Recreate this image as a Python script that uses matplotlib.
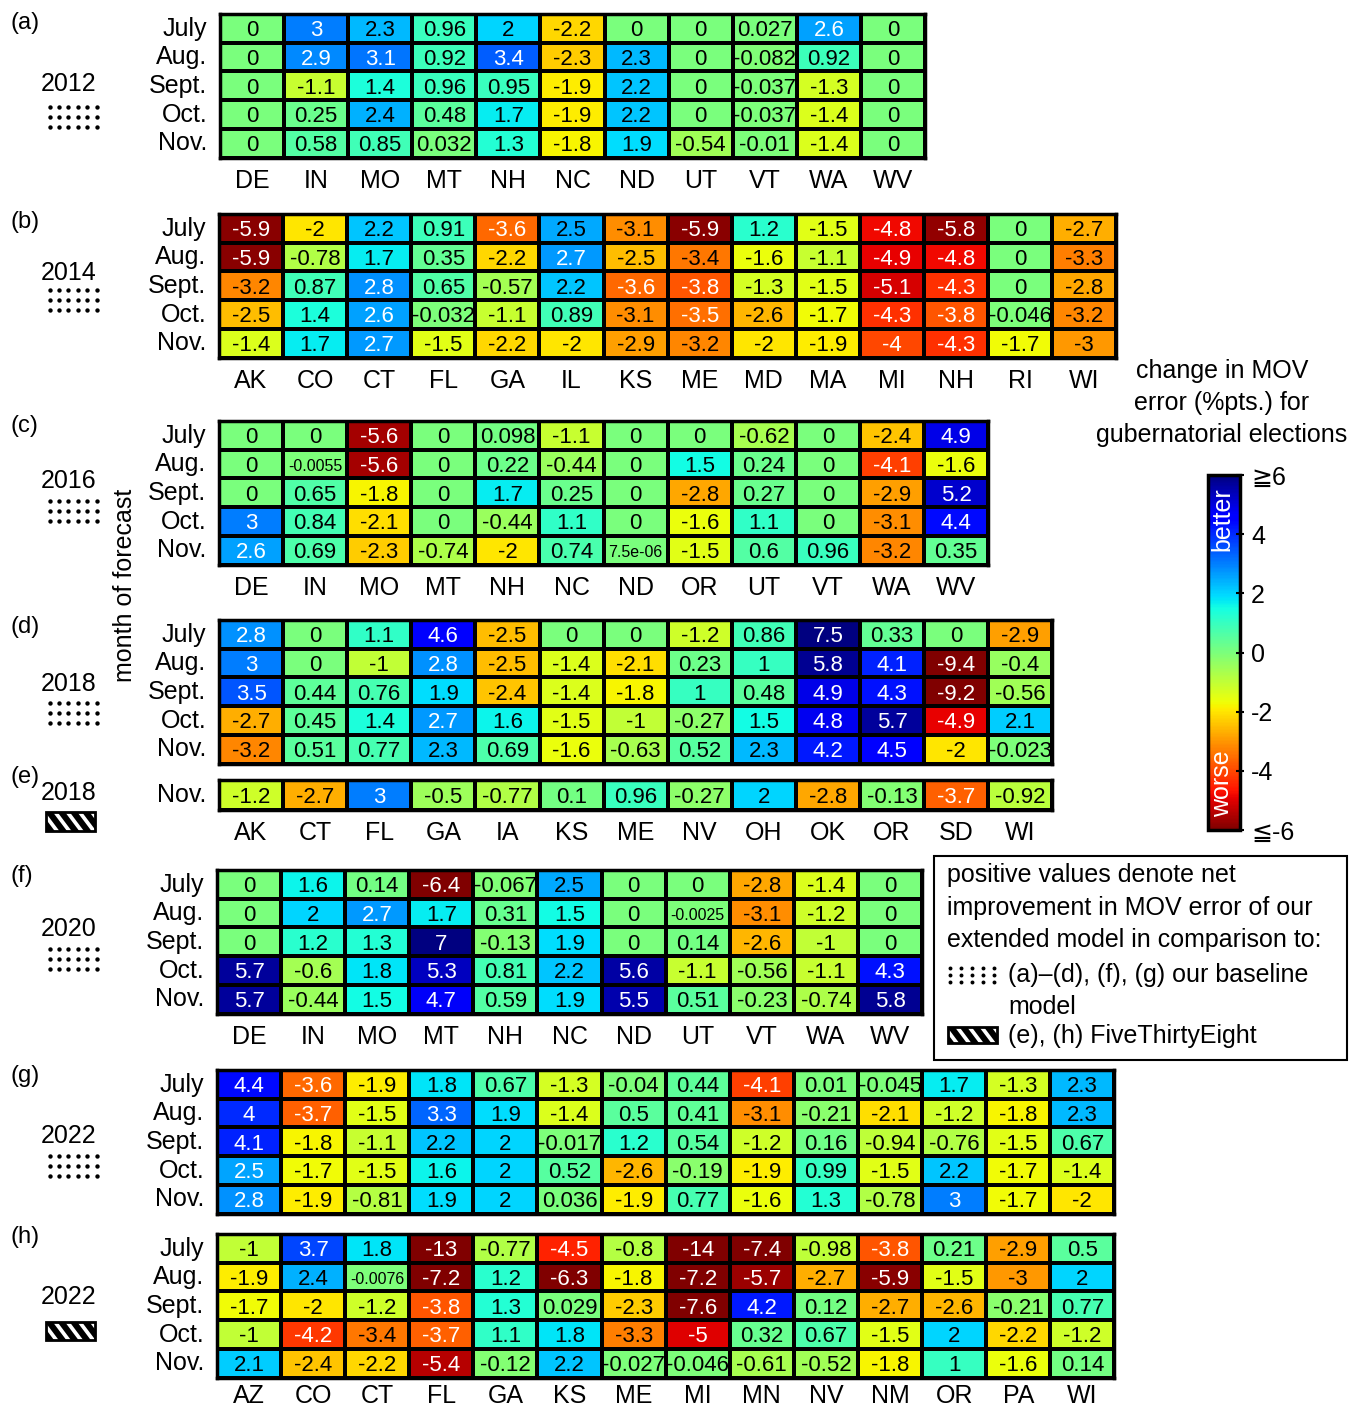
import matplotlib
matplotlib.use('Agg')
import matplotlib.pyplot as plt
import numpy as np
from matplotlib.colors import Normalize
from matplotlib.cm import ScalarMappable
from matplotlib.patches import Rectangle, Polygon

plt.rcParams['font.family'] = ['Liberation Sans', 'DejaVu Sans']

# ---- data -----------------------------------------------------------------
months = ['July', 'Aug.', 'Sept.', 'Oct.', 'Nov.']

states_2012 = ['DE', 'IN', 'MO', 'MT', 'NH', 'NC', 'ND', 'UT', 'VT', 'WA', 'WV']
vals_2012 = [
    [0, 3, 2.3, 0.96, 2, -2.2, 0, 0, 0.027, 2.6, 0],
    [0, 2.9, 3.1, 0.92, 3.4, -2.3, 2.3, 0, -0.082, 0.92, 0],
    [0, -1.1, 1.4, 0.96, 0.95, -1.9, 2.2, 0, -0.037, -1.3, 0],
    [0, 0.25, 2.4, 0.48, 1.7, -1.9, 2.2, 0, -0.037, -1.4, 0],
    [0, 0.58, 0.85, 0.032, 1.3, -1.8, 1.9, -0.54, -0.01, -1.4, 0],
]

states_2014 = ['AK', 'CO', 'CT', 'FL', 'GA', 'IL', 'KS', 'ME', 'MD', 'MA', 'MI', 'NH', 'RI', 'WI']
vals_2014 = [
    [-5.9, -2, 2.2, 0.91, -3.6, 2.5, -3.1, -5.9, 1.2, -1.5, -4.8, -5.8, 0, -2.7],
    [-5.9, -0.78, 1.7, 0.35, -2.2, 2.7, -2.5, -3.4, -1.6, -1.1, -4.9, -4.8, 0, -3.3],
    [-3.2, 0.87, 2.8, 0.65, -0.57, 2.2, -3.6, -3.8, -1.3, -1.5, -5.1, -4.3, 0, -2.8],
    [-2.5, 1.4, 2.6, -0.032, -1.1, 0.89, -3.1, -3.5, -2.6, -1.7, -4.3, -3.8, -0.046, -3.2],
    [-1.4, 1.7, 2.7, -1.5, -2.2, -2, -2.9, -3.2, -2, -1.9, -4, -4.3, -1.7, -3],
]

states_2016 = ['DE', 'IN', 'MO', 'MT', 'NH', 'NC', 'ND', 'OR', 'UT', 'VT', 'WA', 'WV']
vals_2016 = [
    [0, 0, -5.6, 0, 0.098, -1.1, 0, 0, -0.62, 0, -2.4, 4.9],
    [0, -0.0055, -5.6, 0, 0.22, -0.44, 0, 1.5, 0.24, 0, -4.1, -1.6],
    [0, 0.65, -1.8, 0, 1.7, 0.25, 0, -2.8, 0.27, 0, -2.9, 5.2],
    [3, 0.84, -2.1, 0, -0.44, 1.1, 0, -1.6, 1.1, 0, -3.1, 4.4],
    [2.6, 0.69, -2.3, -0.74, -2, 0.74, 7.5e-06, -1.5, 0.6, 0.96, -3.2, 0.35],
]

states_2018 = ['AK', 'CT', 'FL', 'GA', 'IA', 'KS', 'ME', 'NV', 'OH', 'OK', 'OR', 'SD', 'WI']
vals_2018 = [
    [2.8, 0, 1.1, 4.6, -2.5, 0, 0, -1.2, 0.86, 7.5, 0.33, 0, -2.9],
    [3, 0, -1, 2.8, -2.5, -1.4, -2.1, 0.23, 1, 5.8, 4.1, -9.4, -0.4],
    [3.5, 0.44, 0.76, 1.9, -2.4, -1.4, -1.8, 1, 0.48, 4.9, 4.3, -9.2, -0.56],
    [-2.7, 0.45, 1.4, 2.7, 1.6, -1.5, -1, -0.27, 1.5, 4.8, 5.7, -4.9, 2.1],
    [-3.2, 0.51, 0.77, 2.3, 0.69, -1.6, -0.63, 0.52, 2.3, 4.2, 4.5, -2, -0.023],
]
vals_2018_538 = [
    [-1.2, -2.7, 3, -0.5, -0.77, 0.1, 0.96, -0.27, 2, -2.8, -0.13, -3.7, -0.92],
]

states_2020 = ['DE', 'IN', 'MO', 'MT', 'NH', 'NC', 'ND', 'UT', 'VT', 'WA', 'WV']
vals_2020 = [
    [0, 1.6, 0.14, -6.4, -0.067, 2.5, 0, 0, -2.8, -1.4, 0],
    [0, 2, 2.7, 1.7, 0.31, 1.5, 0, -0.0025, -3.1, -1.2, 0],
    [0, 1.2, 1.3, 7, -0.13, 1.9, 0, 0.14, -2.6, -1, 0],
    [5.7, -0.6, 1.8, 5.3, 0.81, 2.2, 5.6, -1.1, -0.56, -1.1, 4.3],
    [5.7, -0.44, 1.5, 4.7, 0.59, 1.9, 5.5, 0.51, -0.23, -0.74, 5.8],
]

states_2022 = ['AZ', 'CO', 'CT', 'FL', 'GA', 'KS', 'ME', 'MI', 'MN', 'NV', 'NM', 'OR', 'PA', 'WI']
vals_2022 = [
    [4.4, -3.6, -1.9, 1.8, 0.67, -1.3, -0.04, 0.44, -4.1, 0.01, -0.045, 1.7, -1.3, 2.3],
    [4, -3.7, -1.5, 3.3, 1.9, -1.4, 0.5, 0.41, -3.1, -0.21, -2.1, -1.2, -1.8, 2.3],
    [4.1, -1.8, -1.1, 2.2, 2, -0.017, 1.2, 0.54, -1.2, 0.16, -0.94, -0.76, -1.5, 0.67],
    [2.54, -1.7, -1.5, 1.6, 2, 0.52, -2.6, -0.19, -1.9, 0.99, -1.5, 2.2, -1.7, -1.4],
    [2.8, -1.9, -0.81, 1.9, 2, 0.036, -1.9, 0.77, -1.6, 1.3, -0.78, 3, -1.7, -2],
]
vals_2022_538 = [
    [-1, 3.7, 1.8, -13, -0.77, -4.5, -0.8, -14, -7.4, -0.98, -3.8, 0.21, -2.9, 0.5],
    [-1.9, 2.4, -0.0076, -7.2, 1.2, -6.3, -1.8, -7.2, -5.7, -2.7, -5.9, -1.5, -3, 2],
    [-1.7, -2, -1.2, -3.8, 1.3, 0.029, -2.3, -7.6, 4.2, 0.12, -2.7, -2.6, -0.21, 0.77],
    [-1, -4.2, -3.4, -3.7, 1.1, 1.8, -3.3, -5, 0.32, 0.67, -1.5, 2, -2.2, -1.2],
    [2.1, -2.4, -2.2, -5.4, -0.12, 2.2, -0.027, -0.046, -0.61, -0.52, -1.8, 1, -1.6, 0.14],
]

# ---- layout (pixels) ------------------------------------------------------
W, H = 1364, 1408
CW, RH = 64.1, 28.7
cmap = plt.get_cmap('jet_r')
norm = Normalize(vmin=-6, vmax=6)

fig = plt.figure(figsize=(W / 100, H / 100), dpi=100)

def add_ax(x0, y0, x1, y1):
    return fig.add_axes([x0 / W, 1 - y1 / H, (x1 - x0) / W, (y1 - y0) / H])

# overlay axes in pixel coordinates for labels and symbols
ov = fig.add_axes([0, 0, 1, 1])
ov.set_xlim(0, W)
ov.set_ylim(H, 0)
ov.axis('off')


def heatmap(left, top, vals, rows, cols, rh=RH, xlabels=True, xpad=8):
    vals = np.array(vals, dtype=float)
    m, n = vals.shape
    ax = add_ax(left, top, left + n * CW, top + m * rh)
    ax.pcolormesh(vals, cmap=cmap, norm=norm, edgecolors='black', linewidth=1.5)
    ax.set_xlim(0, n)
    ax.set_ylim(m, 0)
    ax.set_yticks(np.arange(m) + 0.42, rows)
    if xlabels:
        ax.set_xticks(np.arange(n) + 0.5, cols)
    else:
        ax.set_xticks([])
    ax.tick_params(axis='y', length=0, labelsize=18, pad=9)
    ax.tick_params(axis='x', length=0, labelsize=18, pad=xpad)
    for s in ax.spines.values():
        s.set_linewidth(2.5)
    for i in range(m):
        for j in range(n):
            v = vals[i, j]
            s = '%.2g' % v
            fs = 11.5 if len(s) >= 7 else 16
            c = 'white' if (v > 2.5 or v < -3.45) else 'black'
            ax.text(j + 0.5, i + 0.58, s, ha='center', va='center',
                    fontsize=fs, color=c)
    return ax


def dots(xc, yc, ncol=6, nrow=3, dx=9.4, dy=10, s=10):
    xs = xc + (np.arange(ncol) - (ncol - 1) / 2) * dx
    ys = yc + (np.arange(nrow) - (nrow - 1) / 2) * dy
    X, Y = np.meshgrid(xs, ys)
    ov.scatter(X.ravel(), Y.ravel(), s=s, color='black', linewidths=0)


def stripes(x0, y0, w, h, n=4):
    rect = Rectangle((x0, y0), w, h, facecolor='black', edgecolor='none')
    ov.add_patch(rect)
    per = w / n
    sw = per * 0.38
    shift = h * 0.75
    for k in range(n + 1):
        xa = x0 + k * per - per * 0.45
        p = Polygon([(xa, y0), (xa + sw, y0), (xa + sw + shift, y0 + h),
                     (xa + shift, y0 + h)], closed=True,
                    facecolor='white', edgecolor='none')
        ov.add_patch(p)
        p.set_clip_path(rect)
    ov.add_patch(Rectangle((x0, y0), w, h, facecolor='none',
                           edgecolor='black', linewidth=2))


# ---- panels ---------------------------------------------------------------
heatmap(220, 14, vals_2012, months, states_2012)
heatmap(219, 214, vals_2014, months, states_2014)
heatmap(219, 421, vals_2016, months, states_2016)
heatmap(219, 620, vals_2018, months, states_2018, xlabels=False)
heatmap(219, 780, vals_2018_538, ['Nov.'], states_2018, rh=30)
heatmap(217, 870, vals_2020, months, states_2020)
heatmap(217, 1070, vals_2022, months, states_2022, xlabels=False)
heatmap(217, 1234, vals_2022_538, months, states_2022, xpad=4.5)

panel_tags = ['(a)', '(b)', '(c)', '(d)', '(e)', '(f)', '(g)', '(h)']
tag_y = [23, 222, 426, 627, 777, 876, 1076, 1237]
for t, y in zip(panel_tags, tag_y):
    ov.text(10, y, t, ha='left', va='center', fontsize=17)

years = ['2012', '2014', '2016', '2018', '2018', '2020', '2022', '2022']
year_y = [84, 273, 481, 684, 793, 929, 1136, 1297]
for t, y in zip(years, year_y):
    ov.text(69, y, t, ha='center', va='center', fontsize=18)

for yc in [117, 300, 511, 713, 959, 1166]:
    dots(73, yc)
stripes(46, 812, 49, 19)
stripes(46, 1322, 49, 18)

ov.text(125, 585, 'month of forecast', rotation=90, ha='center', va='center',
        fontsize=18)

# ---- colorbar -------------------------------------------------------------
cax = add_ax(1208, 475, 1240, 830)
cb = fig.colorbar(ScalarMappable(norm=norm, cmap=cmap), cax=cax,
                  ticks=[-6, -4, -2, 0, 2, 4, 6])
cb.ax.set_yticklabels(['\u2266-6', '-4', '-2', '0', '2', '4', '\u22676'])
cb.outline.set_linewidth(2.5)
cax.tick_params(direction='inout', length=6, width=1.5, labelsize=18, pad=5)
cax.text(0.45, 0.875, 'better', rotation=90, color='white', fontsize=18,
         ha='center', va='center', transform=cax.transAxes)
cax.text(0.45, 0.13, 'worse', rotation=90, color='white', fontsize=18,
         ha='center', va='center', transform=cax.transAxes)

for t, y in zip(['change in MOV', 'error (%pts.) for', 'gubernatorial elections'],
                [371, 403, 435]):
    ov.text(1222, y, t, ha='center', va='center', fontsize=18)

# ---- legend box -----------------------------------------------------------
ov.add_patch(Rectangle((934, 856), 413, 204, facecolor='none',
                       edgecolor='black', linewidth=1.5))
legend_lines = ['positive values denote net', 'improvement in MOV error of our',
                'extended model in comparison to:']
for t, y in zip(legend_lines, [875, 908, 940]):
    ov.text(947, y, t, ha='left', va='center', fontsize=18)
dots(972, 975, ncol=5, nrow=3, dx=11, dy=7, s=8)
ov.text(1008, 975, '(a)\u2013(d), (f), (g) our baseline', ha='left', va='center',
        fontsize=18)
ov.text(1008, 1007, 'model', ha='left', va='center', fontsize=18)
stripes(948, 1027, 49, 16)
ov.text(1008, 1036, '(e), (h) FiveThirtyEight', ha='left', va='center',
        fontsize=18)

fig.savefig('out.png', dpi=100)
